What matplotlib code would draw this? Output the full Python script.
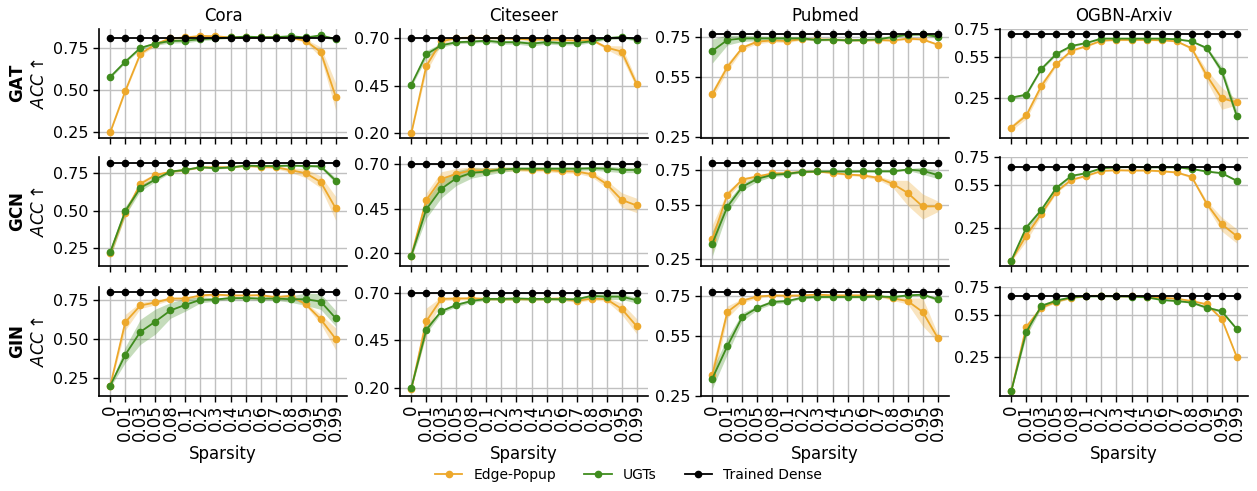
import numpy as np
import matplotlib
matplotlib.use("Agg")
import matplotlib.pyplot as plt
from matplotlib.ticker import FormatStrFormatter
from matplotlib.lines import Line2D

# ---------------- data ----------------
sparsity = ['0', '0.01', '0.03', '0.05', '0.08', '0.1', '0.2', '0.3', '0.4',
            '0.5', '0.6', '0.7', '0.8', '0.9', '0.95', '0.99']
datasets = ['Cora', 'Citeseer', 'Pubmed', 'OGBN-Arxiv']
models = ['GAT', 'GCN', 'GIN']

dense_gat = [0.809, 0.700, 0.767, 0.713]
dense_gcn = [0.818, 0.700, 0.787, 0.679]
dense_gin = [0.795, 0.700, 0.768, 0.684]

# GAT
cora_gat_ep = [0.25, 0.494, 0.713, 0.77, 0.805, 0.81, 0.819, 0.817, 0.81, 0.81, 0.81, 0.81, 0.81, 0.79, 0.724, 0.46]
cora_gat_ep_sd = [0.005, 0.01, 0.01, 0.01, 0.01, 0.005, 0.005, 0.005, 0.005, 0.005, 0.005, 0.005, 0.005, 0.01, 0.03, 0.08]
cora_gat_ugt = [0.577, 0.667, 0.748, 0.774, 0.789, 0.791, 0.80, 0.805, 0.81, 0.815, 0.812, 0.812, 0.817, 0.81, 0.822, 0.80]
cora_gat_ugt_sd = [0.008, 0.008, 0.008, 0.01, 0.012, 0.012, 0.01, 0.008, 0.005, 0.005, 0.005, 0.005, 0.005, 0.005, 0.008, 0.01]

cite_gat_ep = [0.20, 0.552, 0.68, 0.698, 0.70, 0.698, 0.697, 0.694, 0.69, 0.69, 0.688, 0.685, 0.688, 0.648, 0.627, 0.456]
cite_gat_ep_sd = [0.005, 0.03, 0.015, 0.005, 0.005, 0.005, 0.005, 0.005, 0.005, 0.005, 0.005, 0.005, 0.005, 0.01, 0.03, 0.02]
cite_gat_ugt = [0.454, 0.613, 0.66, 0.676, 0.679, 0.684, 0.676, 0.676, 0.669, 0.676, 0.672, 0.672, 0.681, 0.697, 0.703, 0.69]
cite_gat_ugt_sd = [0.01, 0.02, 0.01, 0.008, 0.008, 0.008, 0.01, 0.01, 0.012, 0.01, 0.01, 0.01, 0.008, 0.008, 0.008, 0.008]

pub_gat_ep = [0.465, 0.60, 0.697, 0.727, 0.733, 0.73, 0.74, 0.738, 0.737, 0.735, 0.733, 0.735, 0.733, 0.742, 0.738, 0.712]
pub_gat_ep_sd = [0.02, 0.02, 0.01, 0.01, 0.008, 0.008, 0.005, 0.005, 0.005, 0.005, 0.005, 0.005, 0.005, 0.005, 0.005, 0.005]
pub_gat_ugt = [0.68, 0.735, 0.743, 0.743, 0.743, 0.743, 0.743, 0.735, 0.737, 0.733, 0.735, 0.738, 0.75, 0.762, 0.763, 0.752]
pub_gat_ugt_sd = [0.06, 0.025, 0.015, 0.012, 0.01, 0.01, 0.008, 0.005, 0.005, 0.005, 0.005, 0.005, 0.005, 0.005, 0.005, 0.008]

arx_gat_ep = [0.03, 0.12, 0.335, 0.494, 0.594, 0.626, 0.667, 0.672, 0.672, 0.672, 0.67, 0.662, 0.611, 0.413, 0.245, 0.216]
arx_gat_ep_sd = [0.02, 0.025, 0.03, 0.01, 0.008, 0.005, 0.005, 0.005, 0.005, 0.005, 0.005, 0.005, 0.01, 0.04, 0.08, 0.02]
arx_gat_ugt = [0.25, 0.272, 0.46, 0.57, 0.628, 0.65, 0.682, 0.682, 0.682, 0.682, 0.682, 0.677, 0.662, 0.613, 0.447, 0.118]
arx_gat_ugt_sd = [0.01, 0.01, 0.01, 0.01, 0.008, 0.005, 0.005, 0.005, 0.005, 0.005, 0.005, 0.005, 0.005, 0.01, 0.03, 0.04]

# GCN
cora_gcn_ep = [0.22, 0.488, 0.68, 0.739, 0.761, 0.774, 0.79, 0.792, 0.792, 0.80, 0.796, 0.792, 0.772, 0.752, 0.693, 0.517]
cora_gcn_ep_sd = [0.03, 0.02, 0.02, 0.01, 0.008, 0.005, 0.005, 0.005, 0.005, 0.005, 0.008, 0.01, 0.015, 0.03, 0.04, 0.08]
cora_gcn_ugt = [0.224, 0.50, 0.653, 0.71, 0.763, 0.774, 0.792, 0.785, 0.79, 0.803, 0.80, 0.80, 0.803, 0.80, 0.798, 0.702]
cora_gcn_ugt_sd = [0.03, 0.03, 0.02, 0.015, 0.008, 0.005, 0.005, 0.005, 0.005, 0.005, 0.005, 0.005, 0.005, 0.005, 0.01, 0.02]

cite_gcn_ep = [0.187, 0.498, 0.615, 0.643, 0.663, 0.661, 0.669, 0.669, 0.665, 0.665, 0.658, 0.656, 0.641, 0.586, 0.498, 0.467]
cite_gcn_ep_sd = [0.01, 0.04, 0.04, 0.03, 0.02, 0.015, 0.01, 0.01, 0.01, 0.01, 0.01, 0.01, 0.015, 0.02, 0.04, 0.04]
cite_gcn_ugt = [0.187, 0.446, 0.56, 0.619, 0.649, 0.656, 0.667, 0.672, 0.672, 0.672, 0.672, 0.672, 0.674, 0.672, 0.665, 0.665]
cite_gcn_ugt_sd = [0.01, 0.05, 0.05, 0.04, 0.03, 0.02, 0.015, 0.01, 0.01, 0.01, 0.01, 0.01, 0.01, 0.015, 0.015, 0.015]

pub_gcn_ep = [0.36, 0.609, 0.694, 0.711, 0.728, 0.73, 0.737, 0.739, 0.731, 0.722, 0.717, 0.704, 0.67, 0.619, 0.543, 0.544]
pub_gcn_ep_sd = [0.08, 0.02, 0.01, 0.01, 0.008, 0.005, 0.005, 0.005, 0.005, 0.005, 0.008, 0.01, 0.02, 0.07, 0.07, 0.03]
pub_gcn_ugt = [0.335, 0.541, 0.654, 0.698, 0.72, 0.726, 0.737, 0.739, 0.739, 0.739, 0.74, 0.74, 0.74, 0.75, 0.743, 0.719]
pub_gcn_ugt_sd = [0.07, 0.03, 0.02, 0.015, 0.01, 0.008, 0.005, 0.005, 0.005, 0.005, 0.005, 0.005, 0.005, 0.005, 0.02, 0.02]

arx_gcn_ep = [0.014, 0.193, 0.347, 0.505, 0.59, 0.618, 0.653, 0.658, 0.656, 0.656, 0.651, 0.642, 0.611, 0.42, 0.274, 0.189]
arx_gcn_ep_sd = [0.005, 0.04, 0.015, 0.01, 0.008, 0.005, 0.005, 0.005, 0.005, 0.005, 0.005, 0.005, 0.01, 0.02, 0.05, 0.05]
arx_gcn_ugt = [0.014, 0.25, 0.375, 0.533, 0.618, 0.637, 0.672, 0.679, 0.682, 0.679, 0.679, 0.679, 0.667, 0.649, 0.637, 0.583]
arx_gcn_ugt_sd = [0.005, 0.02, 0.02, 0.01, 0.008, 0.005, 0.005, 0.005, 0.005, 0.005, 0.005, 0.005, 0.005, 0.005, 0.005, 0.008]

# GIN
cora_gin_ep = [0.199, 0.605, 0.712, 0.731, 0.756, 0.756, 0.776, 0.782, 0.776, 0.776, 0.778, 0.765, 0.774, 0.72, 0.624, 0.498]
cora_gin_ep_sd = [0.005, 0.05, 0.02, 0.015, 0.01, 0.01, 0.01, 0.008, 0.005, 0.005, 0.005, 0.01, 0.008, 0.01, 0.03, 0.07]
cora_gin_ugt = [0.199, 0.397, 0.543, 0.609, 0.68, 0.716, 0.748, 0.75, 0.759, 0.759, 0.756, 0.756, 0.752, 0.752, 0.737, 0.63]
cora_gin_ugt_sd = [0.01, 0.05, 0.08, 0.08, 0.05, 0.04, 0.02, 0.01, 0.01, 0.01, 0.01, 0.01, 0.02, 0.04, 0.05, 0.05]

cite_gin_ep = [0.191, 0.552, 0.67, 0.672, 0.673, 0.67, 0.67, 0.67, 0.668, 0.67, 0.672, 0.659, 0.672, 0.668, 0.617, 0.525]
cite_gin_ep_sd = [0.005, 0.07, 0.01, 0.008, 0.008, 0.008, 0.008, 0.008, 0.008, 0.008, 0.008, 0.008, 0.008, 0.01, 0.03, 0.04]
cite_gin_ugt = [0.198, 0.507, 0.605, 0.638, 0.659, 0.67, 0.67, 0.672, 0.67, 0.67, 0.668, 0.668, 0.686, 0.682, 0.682, 0.663]
cite_gin_ugt_sd = [0.005, 0.02, 0.01, 0.01, 0.008, 0.008, 0.008, 0.008, 0.008, 0.008, 0.008, 0.008, 0.01, 0.015, 0.015, 0.015]

pub_gin_ep = [0.354, 0.67, 0.727, 0.747, 0.753, 0.752, 0.753, 0.757, 0.753, 0.753, 0.753, 0.752, 0.738, 0.725, 0.67, 0.541]
pub_gin_ep_sd = [0.05, 0.03, 0.01, 0.008, 0.005, 0.005, 0.005, 0.005, 0.005, 0.005, 0.005, 0.005, 0.01, 0.015, 0.07, 0.02]
pub_gin_ugt = [0.337, 0.499, 0.646, 0.691, 0.72, 0.725, 0.742, 0.745, 0.745, 0.745, 0.745, 0.748, 0.745, 0.753, 0.757, 0.733]
pub_gin_ugt_sd = [0.05, 0.04, 0.02, 0.01, 0.01, 0.008, 0.005, 0.005, 0.005, 0.005, 0.005, 0.005, 0.005, 0.005, 0.005, 0.008]

arx_gin_ep = [0.008, 0.466, 0.603, 0.646, 0.674, 0.686, 0.688, 0.684, 0.684, 0.682, 0.674, 0.667, 0.65, 0.627, 0.523, 0.252]
arx_gin_ep_sd = [0.005, 0.02, 0.01, 0.008, 0.005, 0.005, 0.005, 0.005, 0.005, 0.005, 0.005, 0.005, 0.005, 0.008, 0.01, 0.01]
arx_gin_ugt = [0.008, 0.43, 0.615, 0.653, 0.677, 0.684, 0.684, 0.684, 0.682, 0.677, 0.658, 0.65, 0.639, 0.603, 0.577, 0.451]
arx_gin_ugt_sd = [0.005, 0.03, 0.015, 0.01, 0.008, 0.005, 0.005, 0.005, 0.005, 0.005, 0.005, 0.005, 0.005, 0.01, 0.01, 0.01]

ep_means = [[cora_gat_ep, cite_gat_ep, pub_gat_ep, arx_gat_ep],
            [cora_gcn_ep, cite_gcn_ep, pub_gcn_ep, arx_gcn_ep],
            [cora_gin_ep, cite_gin_ep, pub_gin_ep, arx_gin_ep]]
ep_sds = [[cora_gat_ep_sd, cite_gat_ep_sd, pub_gat_ep_sd, arx_gat_ep_sd],
          [cora_gcn_ep_sd, cite_gcn_ep_sd, pub_gcn_ep_sd, arx_gcn_ep_sd],
          [cora_gin_ep_sd, cite_gin_ep_sd, pub_gin_ep_sd, arx_gin_ep_sd]]
ugt_means = [[cora_gat_ugt, cite_gat_ugt, pub_gat_ugt, arx_gat_ugt],
             [cora_gcn_ugt, cite_gcn_ugt, pub_gcn_ugt, arx_gcn_ugt],
             [cora_gin_ugt, cite_gin_ugt, pub_gin_ugt, arx_gin_ugt]]
ugt_sds = [[cora_gat_ugt_sd, cite_gat_ugt_sd, pub_gat_ugt_sd, arx_gat_ugt_sd],
           [cora_gcn_ugt_sd, cite_gcn_ugt_sd, pub_gcn_ugt_sd, arx_gcn_ugt_sd],
           [cora_gin_ugt_sd, cite_gin_ugt_sd, pub_gin_ugt_sd, arx_gin_ugt_sd]]
dense_vals = [dense_gat, dense_gcn, dense_gin]

# ---------------- style / layout ----------------
yticks_col = [[0.25, 0.50, 0.75], [0.20, 0.45, 0.70], [0.25, 0.55, 0.75], [0.25, 0.55, 0.75]]
ylims = [[(0.216, 0.86), (0.176, 0.745), (0.246, 0.79), (-0.045, 0.752)],
         [(0.132, 0.86), (0.13, 0.737), (0.21, 0.82), (-0.024, 0.752)],
         [(0.133, 0.83), (0.156, 0.733), (0.25, 0.795), (-0.027, 0.75)]]

C_EP = '#EDA82B'
C_UGT = '#3F8C1E'
C_DENSE = 'black'

W, H = 1257, 491
fig = plt.figure(figsize=(W / 100, H / 100), dpi=100)

col_left = [99, 400, 701, 1000]
col_w = 248
row_top = [29, 157, 287]
row_h = 109

x = np.arange(len(sparsity))
for r in range(3):
    for c in range(4):
        ax = fig.add_axes([col_left[c] / W, 1 - (row_top[r] + row_h) / H, col_w / W, row_h / H])
        ep = np.array(ep_means[r][c]); eps = np.array(ep_sds[r][c])
        ug = np.array(ugt_means[r][c]); ugs = np.array(ugt_sds[r][c])
        dn = np.full(len(sparsity), dense_vals[r][c])
        ax.fill_between(x, ep - eps, ep + eps, color=C_EP, alpha=0.3, lw=0)
        ax.plot(x, ep, color=C_EP, marker='o', ms=4.5, lw=1.3, label='Edge-Popup')
        ax.fill_between(x, ug - ugs, ug + ugs, color=C_UGT, alpha=0.3, lw=0)
        ax.plot(x, ug, color=C_UGT, marker='o', ms=4.5, lw=1.3, label='UGTs')
        ax.plot(x, dn, color=C_DENSE, marker='o', ms=4.5, lw=1.3, label='Trained Dense')
        ax.set_xlim(-0.75, len(sparsity) - 0.25)
        ax.set_ylim(*ylims[r][c])
        ax.set_yticks(yticks_col[c])
        ax.yaxis.set_major_formatter(FormatStrFormatter('%.2f'))
        ax.set_xticks(x)
        if r == 2:
            ax.set_xticklabels(sparsity, rotation=90, fontsize=12)
            ax.set_xlabel('Sparsity', fontsize=12, labelpad=3)
        else:
            ax.set_xticklabels([])
        ax.tick_params(axis='y', labelsize=11.5, length=4, width=1)
        ax.tick_params(axis='x', length=4, width=1, pad=2)
        ax.grid(True, color='#c0c0c0', lw=1.0)
        ax.set_axisbelow(True)
        for s in ['top', 'right']:
            ax.spines[s].set_visible(False)
        for s in ['left', 'bottom']:
            ax.spines[s].set_linewidth(1.2)
        if r == 0:
            ax.set_title(datasets[c], fontsize=12, pad=6)
        if c == 0:
            ax.set_ylabel(r'$\bf{' + models[r] + r'}$' + '\n' + r'$ACC\uparrow$', fontsize=12, labelpad=4)

handles = [Line2D([0], [0], color=C_EP, marker='o', ms=4.5, lw=1.3),
           Line2D([0], [0], color=C_UGT, marker='o', ms=4.5, lw=1.3),
           Line2D([0], [0], color=C_DENSE, marker='o', ms=4.5, lw=1.3)]
fig.legend(handles, ['Edge-Popup', 'UGTs', 'Trained Dense'], loc='center',
           bbox_to_anchor=(0.5, 1 - 475 / H), ncol=3, frameon=False, fontsize=10)

fig.savefig('out.png', dpi=100)
